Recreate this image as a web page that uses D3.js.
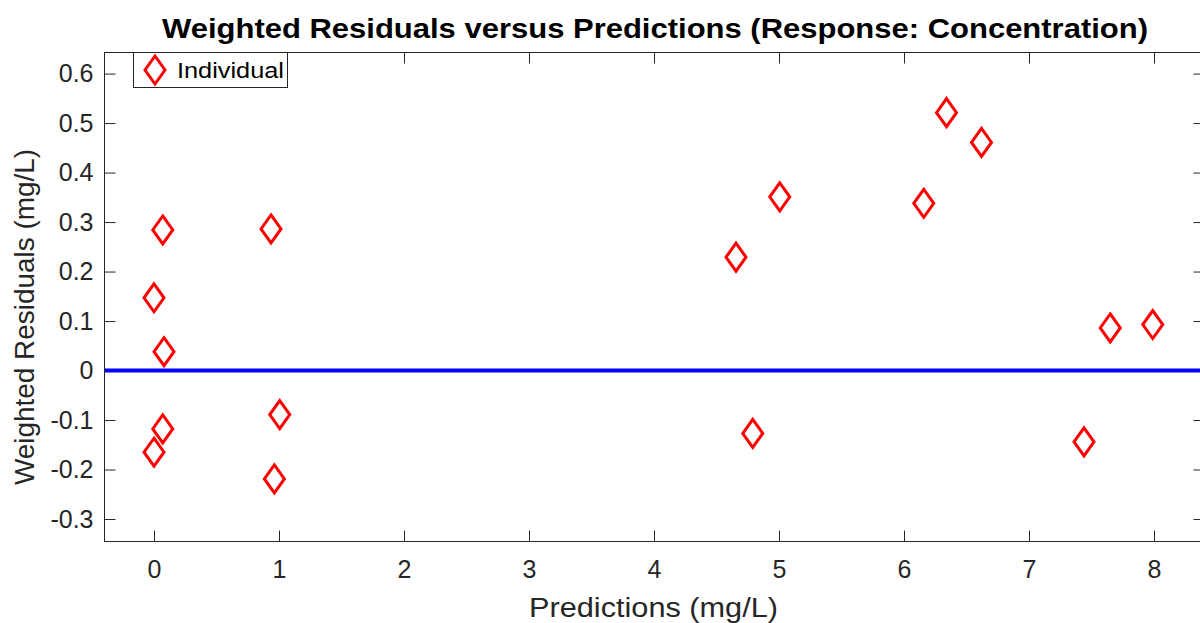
<!DOCTYPE html>
<html><head><meta charset="utf-8">
<script src="https://cdn.jsdelivr.net/npm/d3@7"></script>
<style>body{margin:0;background:#fff;}svg{display:block;font-family:"Liberation Sans",Arial,Helvetica,sans-serif;}</style>
</head><body>
<svg id="c" width="1200" height="623"></svg>
<script>
const predictions = [0.0, 0.07, 0.08, 0.07, 0.0, 0.936, 1.006, 0.963, 4.656, 5.006, 4.79, 6.158, 6.34, 6.62, 7.65, 7.99, 7.44];
const residuals   = [0.147, 0.284, 0.038, -0.118, -0.165, 0.286, -0.089, -0.219, 0.229, 0.351, -0.127, 0.338, 0.521, 0.461, 0.086, 0.093, -0.144];
const xTicks = [0,1,2,3,4,5,6,7,8];
const yTicks = [-0.3,-0.2,-0.1,0,0.1,0.2,0.3,0.4,0.5,0.6];
const refLine = [0];

const svg = d3.select("#c");
const L=104, R=1204, T=52, B=541;
const x = d3.scaleLinear().domain([-0.4, 8.4]).range([L, R]);
const y = d3.scaleLinear().domain([-0.3444, 0.6436]).range([B, T]);
const axCol = "#262626";

// box
svg.append("rect").attr("x",L+0.5).attr("y",T+0.5).attr("width",R-L).attr("height",B-T)
  .attr("fill","none").attr("stroke",axCol).attr("stroke-width",1);

const fmt = d => d===0 ? "0" : d3.format(".1f")(d).replace("−","-");
const gx = svg.append("g").attr("transform",`translate(0,${B+0.5})`)
  .call(d3.axisBottom(x).tickValues(xTicks).tickSize(-11).tickPadding(19).tickFormat(d3.format("d")));
const gxt = svg.append("g").attr("transform",`translate(0,${T+0.5})`)
  .call(d3.axisTop(x).tickValues(xTicks).tickSize(-11).tickFormat(""));
const gy = svg.append("g").attr("transform",`translate(${L+0.5},0)`)
  .call(d3.axisLeft(y).tickValues(yTicks).tickSize(-11).tickPadding(11).tickFormat(fmt));
const gyr = svg.append("g").attr("transform",`translate(${R+0.5},0)`)
  .call(d3.axisRight(y).tickValues(yTicks).tickSize(-11).tickFormat(""));
[gx,gxt,gy,gyr].forEach(g=>{
  g.attr("font-family",null).attr("font-size",null);
  g.select(".domain").remove();
  g.selectAll(".tick line").attr("stroke",axCol);
  g.selectAll("text").attr("fill",axCol).style("font-size","25px");
});

// zero line
svg.selectAll(".ref").data(refLine).enter().append("line")
  .attr("x1",L+1).attr("x2",R).attr("y1",d=>y(d)).attr("y2",d=>y(d))
  .attr("stroke","#0000ff").attr("stroke-width",4);

// diamonds
const dia = (cx,cy)=>`M${cx},${cy-14}L${cx+10},${cy}L${cx},${cy+14}L${cx-10},${cy}Z`;
svg.selectAll(".pt").data(predictions.map((p,i)=>[p,residuals[i]])).enter().append("path")
  .attr("d",d=>dia(x(d[0]),y(d[1])))
  .attr("fill","none").attr("stroke","#ff0000").attr("stroke-width",3);

// legend
svg.append("rect").attr("x",133.5).attr("y",52.5).attr("width",154).attr("height",35)
  .attr("fill","#fff").attr("stroke",axCol).attr("stroke-width",1);
svg.append("path").attr("d",dia(155,70)).attr("fill","none").attr("stroke","#ff0000").attr("stroke-width",3);
svg.append("text").attr("x",177).attr("y",77.5).style("font-size","22px").attr("fill","#000")
  .attr("textLength",107).attr("lengthAdjust","spacingAndGlyphs").text("Individual");

// title & labels
svg.append("text").attr("x",655).attr("y",38).attr("text-anchor","middle")
  .style("font-size","28px").attr("font-weight","bold")
  .attr("textLength",986).attr("lengthAdjust","spacingAndGlyphs")
  .attr("fill","#000").text("Weighted Residuals versus Predictions (Response: Concentration)");
svg.append("text").attr("x",653.5).attr("y",617).attr("text-anchor","middle")
  .style("font-size","27px").attr("fill",axCol)
  .attr("textLength",249).attr("lengthAdjust","spacingAndGlyphs").text("Predictions (mg/L)");
svg.append("text").attr("transform",`translate(34,317) rotate(-90)`).attr("text-anchor","middle")
  .style("font-size","27px").attr("fill",axCol)
  .attr("textLength",336).attr("lengthAdjust","spacingAndGlyphs").text("Weighted Residuals (mg/L)");
</script>
</body></html>
